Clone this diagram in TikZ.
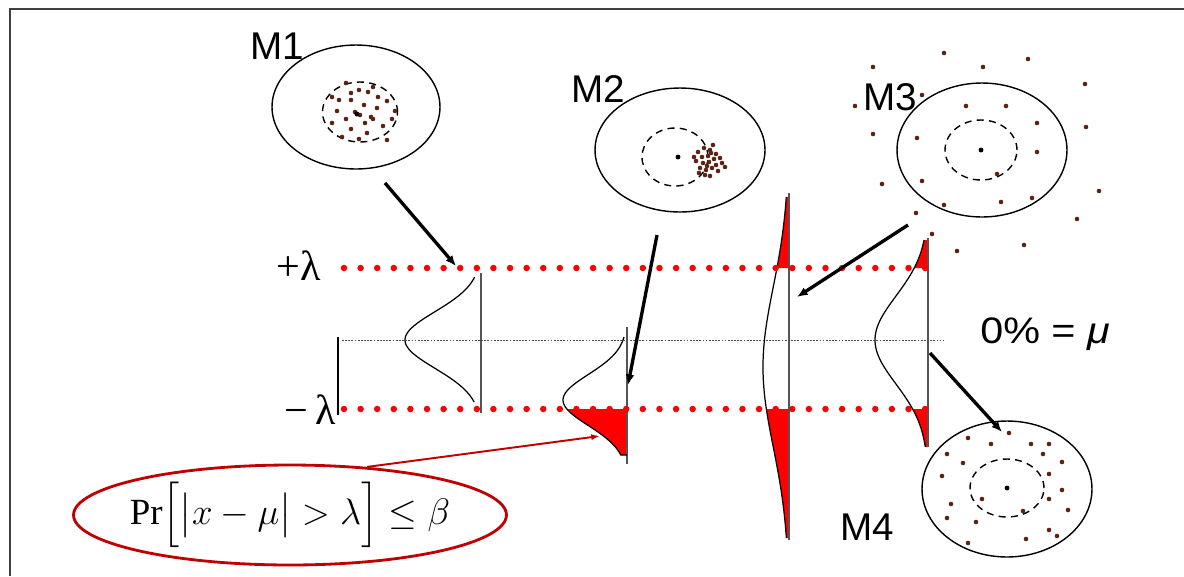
\documentclass[tikz,border=0pt]{standalone}
\usepackage{fix-cm}
\usepackage{amsmath}
\usepackage{exscale}
\usepackage{fontspec}
\setmainfont{Liberation Serif}
\newfontfamily\labelfont{Liberation Sans}
\newfontfamily\widefont[FakeStretch=1.12]{Liberation Sans}
\usetikzlibrary{positioning,arrows.meta,shapes.geometric}
\definecolor{SpotBrown}{HTML}{5C2314}
\definecolor{CallRed}{HTML}{C00000}
\definecolor{SpineGray}{HTML}{555555}

\begin{document}
\begin{tikzpicture}[
  x=0.02cm, y=-0.02cm,
  ring/.style={draw, ellipse, line width=0.8pt, inner sep=0pt},
  zone/.style={draw, ellipse, line width=0.8pt, dash pattern=on 4pt off 3pt, inner sep=0pt},
  tag/.style={font=\labelfont\fontsize{22}{24}\selectfont, inner sep=0pt},
  pointer/.style={-{Latex[length=6pt,width=5pt]}, line width=1.9pt},
  bound/.style={red, line width=3.7pt, line cap=round, dash pattern=on 0pt off 9.45pt},
  bell/.style={line width=0.7pt},
  spine/.style={SpineGray, line width=1.1pt},
  spot/.style={SpotBrown}
]
\useasboundingbox (0,0) rectangle (1184,576);
\draw[black!75, line width=1.2pt] (10,576) -- (10,9) -- (1184,9);

% targets
\node[ring, minimum width=3.36cm, minimum height=2.48cm] (m1ring) at (356,107) {};
\node[zone, minimum width=1.5cm, minimum height=1.2cm] (m1zone) at (360,112) {};
\node[ring, minimum width=3.4cm, minimum height=2.48cm] (m2ring) at (680,150) {};
\node[zone, minimum width=1.32cm, minimum height=1.16cm] (m2zone) at (675,157) {};
\node[ring, minimum width=3.4cm, minimum height=2.68cm] (m3ring) at (982,150) {};
\node[zone, minimum width=1.44cm, minimum height=1.2cm] (m3zone) at (981,150) {};
\node[ring, minimum width=3.4cm, minimum height=2.72cm] (m4ring) at (1007,489) {};
\node[zone, minimum width=1.48cm, minimum height=1.16cm] (m4zone) at (1007,488) {};

\foreach \p in {(346,83),(351,93),(359,90),(368,92),(373,87),(378,97),(332,97),(339,100),
  (351,100),(364,105),(387,101),(377,108),(337,111),(355,112),(360,115),(371,117),(395,111),
  (346,119),(332,123),(365,123),(392,119),(373,119),(351,129),(383,126),(367,133),(342,137),
  (359,139),(387,140)}
  \fill[spot] \p circle (1.3pt);
\foreach \p in {(698,152),(704,148),(710,150),(716,154),(702,157),(708,156),(714,159),(720,158),
  (696,161),(703,163),(709,162),(716,165),(722,163),(700,168),(706,170),(712,168),(718,171),
  (705,175),(710,176),(694,157),(713,145),(725,167),(699,173),(707,166),(711,153)}
  \fill[spot] \p circle (1.3pt);
\foreach \p in {(944,53),(873,67),(983,67),(1028,59),(1085,84),(922,95),(855,106),(966,106),
  (1006,106),(1037,123),(1086,127),(873,134),(917,138),(1037,152),(922,181),(882,184),(997,174),
  (1032,198),(1001,202),(944,205),(1099,191),(1077,219),(916,213),(932,234),(1024,245),(957,251)}
  \fill[spot] \p circle (1.3pt);
\foreach \p in {(1009,433),(968,438),(991,444),(1031,444),(1049,444),(947,454),(1043,454),
  (963,463),(1062,462),(942,476),(1049,474),(1062,490),(982,499),(1049,499),(951,504),(1023,511),
  (1068,510),(947,518),(976,522),(1049,530),(1057,536),(1026,539),(968,543)}
  \fill[spot] \p circle (1.3pt);
\foreach \c in {(357,114),(678,157),(981,150),(1007,488)}
  \fill \c circle (1.4pt);

\node[tag] (m1) at (277,46) {M1};
\node[tag] (m2) at (598,89) {M2};
\node[tag] (m3) at (890,97) {M3};
\node[tag] (m4) at (867,527) {M4};

% tails of the distributions
\fill[red] plot[domain=409:455, variable=\t, samples=30]
  ({627-64*exp(-((\t-400)/36)*((\t-400)/36))}, \t) -- (627,455) -- (627,409) -- cycle;
\fill[red] plot[domain=197:268, variable=\t, samples=30]
  ({789-26*exp(-((\t-367)/113)*((\t-367)/113))}, \t) -- (789,268) -- (789,197) -- cycle;
\fill[red] plot[domain=409:538, variable=\t, samples=30]
  ({789-26*exp(-((\t-367)/113)*((\t-367)/113))}, \t) -- (789,538) -- (789,409) -- cycle;
\fill[red] plot[domain=240:268, variable=\t, samples=20]
  ({928-53*exp(-((\t-340)/62)*((\t-340)/62))}, \t) -- (928,268) -- (928,240) -- cycle;
\fill[red] plot[domain=409:447, variable=\t, samples=20]
  ({928-53*exp(-((\t-340)/62)*((\t-340)/62))}, \t) -- (928,447) -- (928,409) -- cycle;

\draw[spine] (481,273) -- (481,413);
\draw[spine] (627,327) -- (627,464);
\draw[spine] (789,193) -- (789,540);
\draw[spine] (928,238) -- (928,447);

\draw[bell] plot[domain=277:402, variable=\t, samples=60]
  ({481-76*exp(-((\t-340)/40)*((\t-340)/40))}, \t);
\draw[bell] plot[domain=337:455, variable=\t, samples=60]
  ({627-64*exp(-((\t-400)/36)*((\t-400)/36))}, \t) -- (627,455);
\draw[bell] plot[domain=197:538, variable=\t, samples=80]
  ({789-26*exp(-((\t-367)/113)*((\t-367)/113))}, \t);
\draw[bell] plot[domain=240:447, variable=\t, samples=60]
  ({928-53*exp(-((\t-340)/62)*((\t-340)/62))}, \t);

% limits
\draw[bound] (344,268) -- (940,268);
\draw[bound] (344,409) -- (940,409);
\draw[black!70, line width=0.4pt, dash pattern=on 1pt off 0.8pt] (342,340) -- (943,340);
\draw[line width=0.8pt] (338,337) -- (338,415);

\node[font=\fontsize{24}{26}\selectfont, inner sep=0pt] (plus) at (299,266) {+λ};
\node[font=\fontsize{24}{26}\selectfont, inner sep=0pt] (minus) at (310,410) {−\,λ};
\node[tag, font=\widefont\fontsize{21}{24}\selectfont] (mean) at (1045,334) {0\% = \textit{μ}};

% arrows
\coordinate (m1tail) at (385,183);
\coordinate (m1tip) at (456,266);
\coordinate (m2tail) at (657,235);
\coordinate (m2tip) at (628,385);
\coordinate (m3tail) at (908,225);
\coordinate (m3tip) at (797,297);
\coordinate (m4tail) at (930,353);
\coordinate (m4tip) at (1002,432);
\coordinate (m2area) at (600,436);
\draw[pointer] (m1tail) -- (m1tip);
\draw[pointer] (m2tail) -- (m2tip);
\draw[pointer] (m3tail) -- (m3tip);
\draw[pointer] (m4tail) -- (m4tip);

% callout
\node[draw=CallRed, line width=1.6pt, ellipse, inner xsep=-4pt, inner ysep=0pt,
  minimum width=8.55cm, minimum height=2cm, font=\fontsize{21}{25}\selectfont]
  (prob) at (290,515) {$\Pr\Bigl[\bigl|x-\mu\bigr|>\lambda\Bigr]\le\beta$};
\draw[CallRed, line width=1.1pt, -{Latex[length=5pt,width=3.5pt]}] (prob.32) -- (m2area);
\end{tikzpicture}
\end{document}
